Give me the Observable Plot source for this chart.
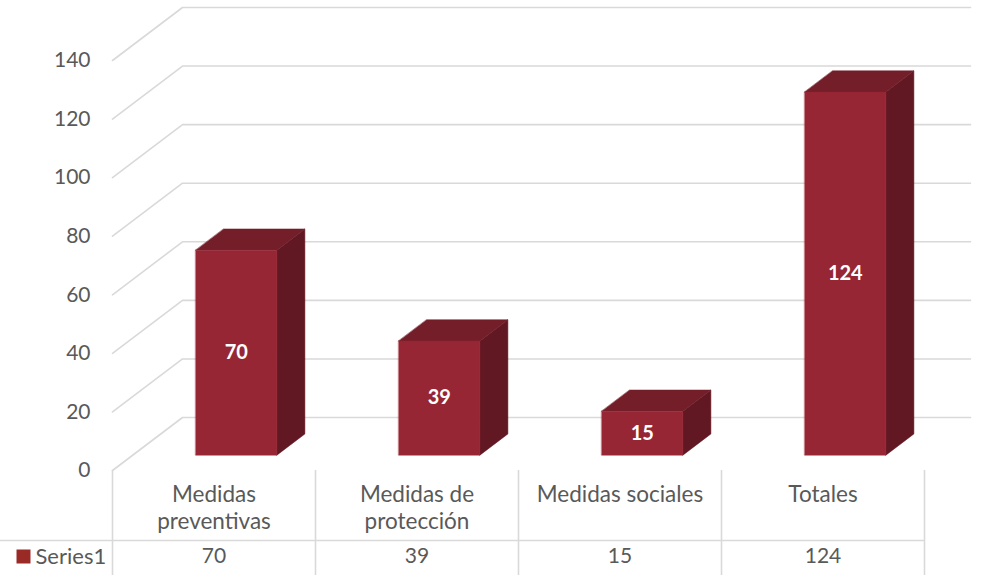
<!DOCTYPE html>
<html><head><meta charset="utf-8">
<script src="https://cdn.jsdelivr.net/npm/d3@7"></script>
<script src="https://cdn.jsdelivr.net/npm/@observablehq/plot@0.6"></script>
<style>body{margin:0;background:#fff;} #chart svg{display:block;overflow:visible;}</style>
</head><body><div id="chart"></div>
<script>
// ---- data ----
const categories = ["Medidas\npreventivas", "Medidas de\nprotección", "Medidas sociales", "Totales"];
const values = [70, 39, 15, 124];
const seriesName = "Series1";
const yTicks = [0, 20, 40, 60, 80, 100, 120, 140];

// ---- layout ----
const W = 986, H = 575, mL = 112, mR = 62, mT = 60, mB = 105;
const yMax = 140;
const n = categories.length;
const unitX = (W - mL - mR) / n;
const unitY = (H - mT - mB) / yMax;
const depth = [70, -53]; // px, back wall offset
function proj(xv, yv, d) { return {x: xv + d * depth[0] / unitX, y: yv - d * depth[1] / unitY}; }

const colFront = "#962634", colSide = "#611823", colTop = "#731e29";
const gridCol = "#d9d9d9", textCol = "#595959";
const font = "Lato, 'Open Sans', sans-serif";

// gridlines (front-left diagonal + back wall)
const backEnd = (W - 16 - depth[0] - mL) / unitX;
const grid = [];
yTicks.forEach(v => {
  [[0, v, 0], [0, v, 1], [backEnd, v, 1]].forEach(p => grid.push({k: v, ...proj(...p)}));
});

// bars
const barW = 0.4, dF = 0.29, dB = 0.69, shift = 2 / unitX;
const frontFaces = [], sideFaces = [], topFaces = [], barLabels = [];
values.forEach((v, i) => {
  const cx = i + 0.5 + shift, l = cx - barW / 2, r = cx + barW / 2, k = i;
  [[l, 0, dF], [r, 0, dF], [r, v, dF], [l, v, dF]].forEach(p => frontFaces.push({k, ...proj(...p)}));
  [[r, 0, dF], [r, 0, dB], [r, v, dB], [r, v, dF]].forEach(p => sideFaces.push({k, ...proj(...p)}));
  [[l, v, dF], [r, v, dF], [r, v, dB], [l, v, dB]].forEach(p => topFaces.push({k, ...proj(...p)}));
  barLabels.push({v, ...proj(cx, v / 2, dF)});
});

const rowSplit = -70 / unitY;       // boundary between label row and value row
const tableBottom = -mB / unitY;

const chart = Plot.plot({
  width: W, height: H,
  marginLeft: mL, marginRight: mR, marginTop: mT, marginBottom: mB,
  style: {fontFamily: font, fontSize: "21px", color: textCol, background: "white", overflow: "visible"},
  x: {domain: [0, n], axis: null},
  y: {domain: [0, yMax], ticks: yTicks, tickSize: 0, tickPadding: 22, label: null, tickFormat: d => String(d)},
  marks: [
    Plot.line(grid, {x: "x", y: "y", z: "k", stroke: gridCol, strokeWidth: 1.6}),
    Plot.line(sideFaces, {x: "x", y: "y", z: "k", fill: colSide, stroke: colSide, strokeWidth: 0.5, curve: "linear-closed"}),
    Plot.line(topFaces, {x: "x", y: "y", z: "k", fill: colTop, stroke: colTop, strokeWidth: 0.5, curve: "linear-closed"}),
    Plot.line(frontFaces, {x: "x", y: "y", z: "k", fill: colFront, stroke: colFront, strokeWidth: 0.5, curve: "linear-closed"}),
    Plot.text(barLabels, {x: "x", y: "y", text: d => String(d.v), fill: "white", fontWeight: "bold", fontSize: 20, fontFamily: font}),
    // data table
    Plot.ruleX(d3.range(n + 1), {y1: 0, y2: tableBottom, stroke: gridCol, strokeWidth: 1.6}),
    Plot.ruleY([rowSplit], {x1: -mL / unitX, x2: n, stroke: gridCol, strokeWidth: 1.6}),
    Plot.text(categories, {x: (d, i) => i + 0.5, y: 0, text: d => d, dy: 12, lineAnchor: "top", lineHeight: 1.22, fill: textCol, fontSize: 22.5, fontFamily: font}),
    Plot.text(values, {x: (d, i) => i + 0.5, y: 0, text: d => String(d), dy: 86, fill: textCol, fontSize: 21, fontFamily: font}),
    Plot.dot([seriesName], {x: 0, y: 0, dx: -89, dy: 86, symbol: "square", r: 7.9, fill: "#9a2a26", stroke: null}),
    Plot.text([seriesName], {x: 0, y: 0, text: d => d, dx: -77, dy: 86, textAnchor: "start", fill: textCol, fontSize: 22, fontFamily: font})
  ]
});
document.getElementById("chart").append(chart);
</script>
</body></html>
